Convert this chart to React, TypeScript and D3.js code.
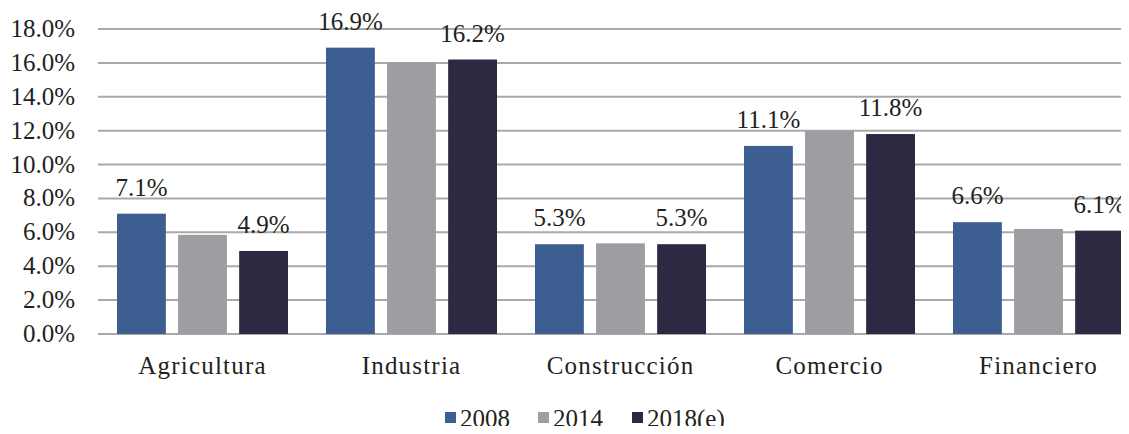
import * as d3 from 'd3'

const categories = ['Agricultura', 'Industria', 'Construcción', 'Comercio', 'Financiero']
const seriesNames = ['2008', '2014', '2018(e)']
const values2008 = [7.1, 16.9, 5.3, 11.1, 6.6]
const values2014 = [5.85, 16.05, 5.35, 12.0, 6.2]
const values2018 = [4.9, 16.2, 5.3, 11.8, 6.1]
const labelled = [true, false, true] // grey series has no value labels
const colors = ['#3d5e91', '#9e9ea2', '#2c2a42']
const yTicks = [0, 2, 4, 6, 8, 10, 12, 14, 16, 18]

const WIDTH = 1129
const HEIGHT = 434
const MARGIN = { top: 29, left: 98, bottom: 100 }

export default function App() {
  const series = [values2008, values2014, values2018]

  const x0 = d3.scaleBand<string>()
    .domain(categories)
    .range([MARGIN.left, MARGIN.left + 209 * categories.length])

  const x1 = d3.scaleBand<string>()
    .domain(seriesNames)
    .range([19, 209 - 19])
    .paddingInner(0.2)

  const y = d3.scaleLinear()
    .domain([0, 18])
    .range([HEIGHT - MARGIN.bottom, MARGIN.top])

  const legendX = [445, 538, 632]

  return (
    <div style={{ margin: -8 }}>
      <style>{`.lbl { font-family: 'Liberation Serif'; font-size: 25px; fill: #231f20; }`}</style>
      <svg width={WIDTH} height={HEIGHT} style={{ display: 'block', background: '#fff' }}>
        {/* gridlines + y labels */}
        {yTicks.map(t => (
          <g key={t}>
            <line x1={MARGIN.left} x2={WIDTH} y1={y(t)} y2={y(t)} stroke="#a9a9ab" strokeWidth={2} />
            <text className="lbl" x={75} y={y(t) + 8} textAnchor="end">
              {t.toFixed(1)}%
            </text>
          </g>
        ))}

        {/* bars */}
        {categories.map((cat, ci) => (
          <g key={cat} transform={`translate(${x0(cat)},0)`}>
            {seriesNames.map((s, si) => {
              const v = series[si][ci]
              const bx = x1(s)!
              return (
                <g key={s}>
                  <rect
                    x={bx}
                    y={y(v)}
                    width={x1.bandwidth()}
                    height={y(0) - y(v)}
                    fill={colors[si]}
                  />
                  {labelled[si] && (
                    <text className="lbl" x={bx + x1.bandwidth() / 2} y={y(v) - 18} textAnchor="middle">
                      {v.toFixed(1)}%
                    </text>
                  )}
                </g>
              )
            })}
            <text className="lbl" x={x0.bandwidth() / 2} y={374} textAnchor="middle" letterSpacing={1.2}>
              {cat}
            </text>
          </g>
        ))}

        {/* legend */}
        {seriesNames.map((s, i) => (
          <g key={s} transform={`translate(${legendX[i]},0)`}>
            <rect x={0} y={412} width={11} height={11} fill={colors[i]} />
            <text className="lbl" x={15} y={427}>{s}</text>
          </g>
        ))}
      </svg>
    </div>
  )
}
